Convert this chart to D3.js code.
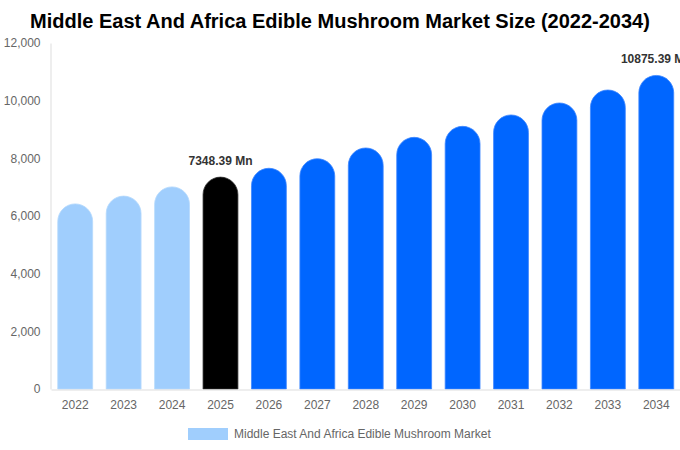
<!DOCTYPE html>
<html>
<head>
<meta charset="utf-8">
<script src="https://cdn.jsdelivr.net/npm/d3@7"></script>
<style>
  body { margin: 0; background: #fff; }
  svg { font-family: "Liberation Sans", Arial, sans-serif; display: block; }
</style>
</head>
<body>
<script>
(function() {

	var width = 680,
		height = 450,
		margin = {top: 43, right: 0, bottom: 61, left: 51};

	// data
	var years = ["2022", "2023", "2024", "2025", "2026", "2027", "2028", "2029", "2030", "2031", "2032", "2033", "2034"];
	var values = [6420, 6690, 7010, 7348.39, 7655, 7988, 8359, 8729, 9110, 9504, 9920, 10371, 10875.39];
	var labels = ["", "", "", "7348.39 Mn", "", "", "", "", "", "", "", "", "10875.39 Mn"];
	var yTicks = [0, 2000, 4000, 6000, 8000, 10000, 12000];
	var seriesName = "Middle East And Africa Edible Mushroom Market";

	// colours
	var pastColor = "#a0cefd",
		currentColor = "#000000",
		futureColor = "#0066ff",
		axisColor = "#dddddd",
		textColor = "#666666";

	function barColor(i) {
		if (i < 3) return pastColor;
		if (i == 3) return currentColor;
		return futureColor;
	}
	function strokeColor(i) {
		if (i < 3) return "#b5d9fd";
		if (i == 3) return "#333333";
		return "#3d87ff";
	}

	var svg = d3.select("body").append("svg")
		.attr("width", width)
		.attr("height", height);

	var x = d3.scaleBand()
		.domain(years)
		.range([margin.left, width - margin.right + 0.5])
		.paddingInner(0.28)
		.paddingOuter(0.14);

	var y = d3.scaleLinear()
		.domain([0, 12000])
		.range([height - margin.bottom, margin.top]);

	// title
	svg.append("text")
		.attr("x", width / 2)
		.attr("y", 28)
		.attr("text-anchor", "middle")
		.attr("font-size", 20)
		.attr("font-weight", "bold")
		.attr("fill", "#000")
		.text("Middle East And Africa Edible Mushroom Market Size (2022-2034)");

	// y axis
	var yAxis = svg.append("g")
		.attr("transform", "translate(" + (margin.left - 0.5) + ",0)")
		.call(d3.axisLeft(y).tickValues(yTicks).tickSize(0).tickPadding(10).tickFormat(d3.format(",")));
	yAxis.select(".domain").attr("stroke", axisColor);
	yAxis.selectAll("text")
		.attr("font-size", 12)
		.attr("fill", textColor)
		.attr("font-family", "Liberation Sans, Arial, sans-serif");

	// bars with rounded tops
	var bw = x.bandwidth();
	var r = bw / 2;
	svg.selectAll("path.bar")
		.data(values)
		.enter()
		.append("path")
		.attr("class", "bar")
		.attr("d", function(d, i) {
			var x0 = x(years[i]),
				top = y(d),
				base = y(0);
			return "M" + x0 + "," + base +
				"L" + x0 + "," + (top + r) +
				"A" + r + "," + r + " 0 0 1 " + (x0 + bw) + "," + (top + r) +
				"L" + (x0 + bw) + "," + base + "Z";
		})
		.attr("fill", function(d, i) { return barColor(i); })
		.attr("stroke", function(d, i) { return strokeColor(i); })
		.attr("stroke-width", 0.8);

	// x axis
	var xAxis = svg.append("g")
		.attr("transform", "translate(0," + (y(0) + 0.5) + ")")
		.call(d3.axisBottom(x).tickSize(0).tickPadding(11));
	xAxis.select(".domain").attr("stroke", axisColor);
	xAxis.selectAll("text")
		.attr("font-size", 12)
		.attr("fill", textColor)
		.attr("font-family", "Liberation Sans, Arial, sans-serif");

	// value labels
	svg.selectAll("text.val")
		.data(values)
		.enter()
		.append("text")
		.attr("class", "val")
		.attr("x", function(d, i) { return x(years[i]) + bw / 2; })
		.attr("y", function(d) { return y(d) - 12; })
		.attr("text-anchor", "middle")
		.attr("font-size", 12)
		.attr("font-weight", "bold")
		.attr("fill", "#333")
		.text(function(d, i) { return labels[i]; });

	// legend
	var legend = svg.append("g").attr("transform", "translate(188,428)");
	legend.append("rect")
		.attr("width", 40)
		.attr("height", 12)
		.attr("fill", pastColor);
	legend.append("text")
		.attr("x", 46)
		.attr("y", 10)
		.attr("font-size", 12)
		.attr("fill", textColor)
		.text(seriesName);

})();
</script>
</body>
</html>
